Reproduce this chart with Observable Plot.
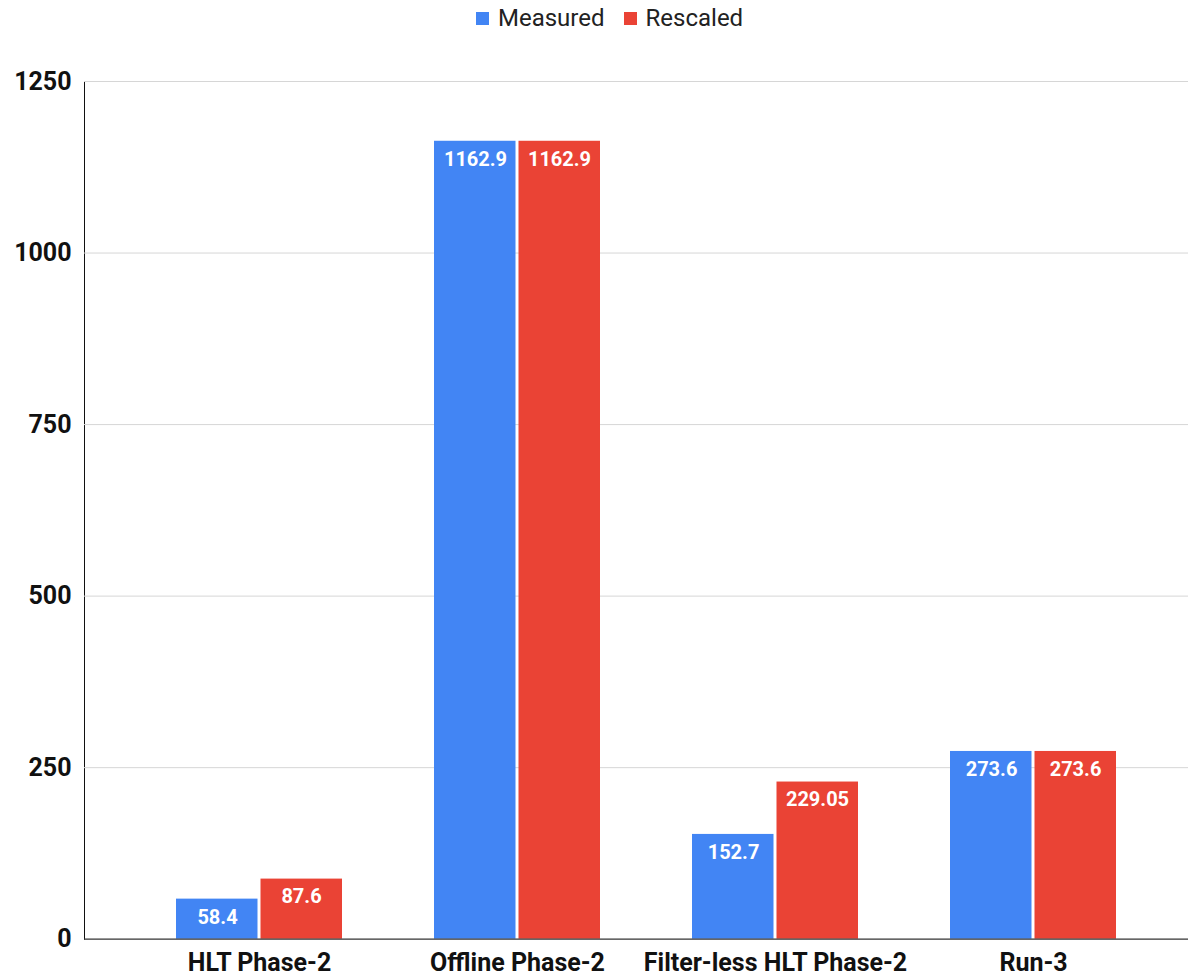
<!DOCTYPE html>
<html>
<head>
<meta charset="utf-8">
<script src="https://cdn.jsdelivr.net/npm/d3@7"></script>
<script src="https://cdn.jsdelivr.net/npm/@observablehq/plot@0.6"></script>
<style>
  html, body { margin: 0; padding: 0; background: #fff; }
  body { width: 1188px; height: 975px; position: relative; overflow: hidden; font-family: Roboto, "Noto Sans", sans-serif; }
  #legend { position: absolute; left: 476px; top: 0; height: 36px; display: flex; align-items: center; font-size: 24px; color: #222; }
  #legend .sw { width: 13px; height: 13px; display: inline-block; margin-right: 9px; }
  #legend .item { display: flex; align-items: center; margin-right: 19px; }
  #chart { position: absolute; left: 0; top: 40px; }
</style>
</head>
<body>
<div id="legend"></div>
<div id="chart"></div>
<script>
const categories = ["HLT Phase-2", "Offline Phase-2", "Filter-less HLT Phase-2", "Run-3"];
const measured = [58.4, 1162.9, 152.7, 273.6];
const rescaled = [87.6, 1162.9, 229.05, 273.6];
const seriesNames = ["Measured", "Rescaled"];
const seriesColors = ["#4285F4", "#EA4335"];
const yTicks = [0, 250, 500, 750, 1000, 1250];

const measuredData = categories.map((c, i) => ({category: c, value: measured[i]}));
const rescaledData = categories.map((c, i) => ({category: c, value: rescaled[i]}));

// legend
const legend = document.getElementById("legend");
seriesNames.forEach((name, i) => {
  const item = document.createElement("span");
  item.className = "item";
  const sw = document.createElement("span");
  sw.className = "sw";
  sw.style.background = seriesColors[i];
  item.appendChild(sw);
  item.appendChild(document.createTextNode(name));
  legend.appendChild(item);
});

const chart = Plot.plot({
  width: 1188,
  height: 935,
  marginLeft: 84,
  marginRight: 0,
  marginTop: 41,
  marginBottom: 36.3,
  style: {fontFamily: "Roboto, sans-serif", fontSize: "25px", fontWeight: "bold", color: "#111", background: "#fff", overflow: "visible"},
  x: {domain: categories, range: [129.4, 1162.1], padding: 0, label: null, tickSize: 0, tickPadding: 14},
  y: {domain: [0, 1250], ticks: yTicks, label: null, tickSize: 0, tickPadding: 13, tickFormat: d => String(d), line: true},
  marks: [
    Plot.ruleY(yTicks.filter(d => d > 0), {stroke: "#d6d6d6", strokeWidth: 1}),
    Plot.barY(measuredData, {x: "category", y: "value", fill: seriesColors[0], insetLeft: 46, insetRight: 130.5}),
    Plot.barY(rescaledData, {x: "category", y: "value", fill: seriesColors[1], insetLeft: 130.5, insetRight: 46}),
    Plot.text(measuredData, {x: "category", y: "value", text: d => String(d.value), dx: -42, dy: 18, fill: "#fff", fontSize: 20, fontWeight: "bold"}),
    Plot.text(rescaledData, {x: "category", y: "value", text: d => String(d.value), dx: 42, dy: 18, fill: "#fff", fontSize: 20, fontWeight: "bold"}),
    Plot.ruleY([0], {stroke: "#333", strokeWidth: 1.3})
  ]
});
document.getElementById("chart").appendChild(chart);
</script>
</body>
</html>
